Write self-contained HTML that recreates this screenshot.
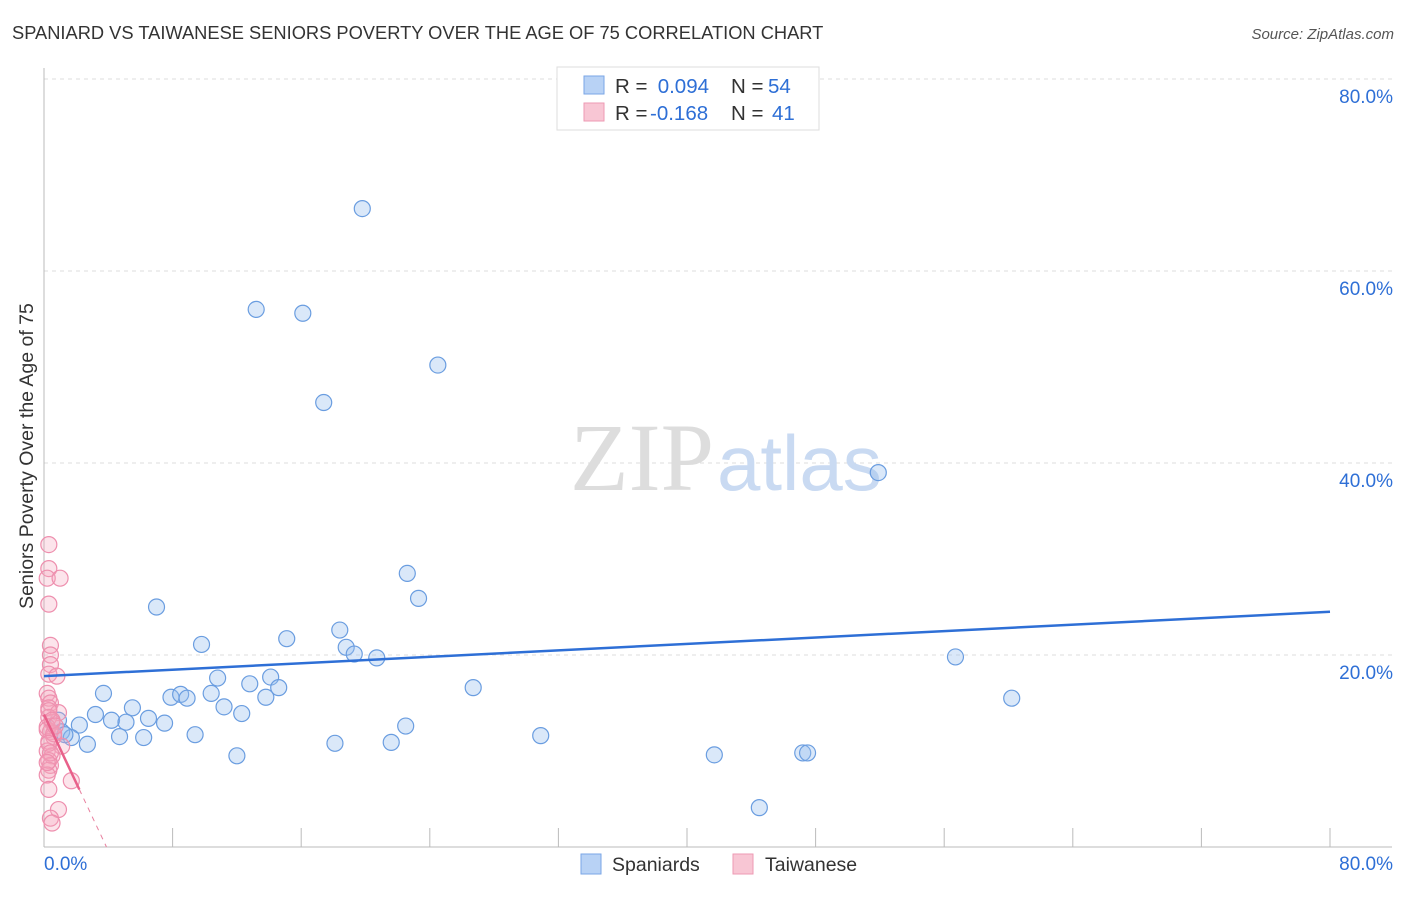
<!DOCTYPE html>
<html><head><meta charset="utf-8"><style>
body{margin:0;background:#fff;font-family:"Liberation Sans",sans-serif;}
svg text{font-family:"Liberation Sans",sans-serif;}
</style></head><body>
<svg width="1406" height="892">
<text x="12" y="39" font-size="18.3" fill="#333">SPANIARD VS TAIWANESE SENIORS POVERTY OVER THE AGE OF 75 CORRELATION CHART</text>
<text x="1394" y="39" font-size="15" fill="#555" text-anchor="end" font-style="italic">Source: ZipAtlas.com</text>
<g id="grid"></g>
<text x="714" y="490" font-size="96" fill="#ddd" text-anchor="end" style="font-family:'Liberation Serif',serif">ZIP</text>
<text x="717" y="490" font-size="78" fill="#c9daf2">atlas</text>
<text x="33" y="456" font-size="19.5" fill="#333" text-anchor="middle" transform="rotate(-90 33 456)">Seniors Poverty Over the Age of 75</text>
<g id="pts"></g>
<g id="lines"></g>
<g>
<rect x="557" y="67" width="262" height="63" fill="#fff" stroke="#ddd"/>
<rect x="584" y="76" width="20" height="18" fill="#b8d2f5" stroke="#7aa6e6"/>
<rect x="584" y="103" width="20" height="18" fill="#f8c6d4" stroke="#ee9ab3"/>
<text x="615" y="93" font-size="20.5" fill="#333">R = <tspan x="652" fill="#2e6fd6">&#160;0.094</tspan><tspan x="731">N = </tspan><tspan x="768" fill="#2e6fd6">54</tspan></text>
<text x="615" y="120" font-size="20.5" fill="#333">R = <tspan x="650" fill="#2e6fd6">-0.168</tspan><tspan x="731">N = </tspan><tspan x="772" fill="#2e6fd6">41</tspan></text>
</g>
<g>
<rect x="581" y="854" width="20" height="20" fill="#b8d2f5" stroke="#7aa6e6"/>
<text x="612" y="871" font-size="19.5" fill="#333">Spaniards</text>
<rect x="733" y="854" width="20" height="20" fill="#f8c6d4" stroke="#ee9ab3"/>
<text x="765" y="871" font-size="19.5" fill="#333">Taiwanese</text>
</g>
</svg>
<script>
const blueX=[19.8,13.2,16.1,24.5,17.4,51.9,22.6,7.0,23.3,9.8,15.1,18.4,18.8,19.3,20.7,56.7,60.2,26.7,3.7,7.9,8.5,8.9,10.4,10.8,12.8,14.1,14.6,13.8,11.2,12.3,5.5,3.2,4.2,5.1,6.5,7.5,2.2,0.9,1.1,1.7,2.7,4.7,6.2,9.4,18.1,21.6,22.5,30.9,12.0,41.7,47.2,47.5,44.5,1.3];
const blueY=[66.5,56.0,55.6,50.2,46.3,39.0,28.5,25.0,25.9,21.1,21.7,22.6,20.8,20.1,19.7,19.8,15.5,16.6,16.0,15.6,15.9,15.5,16.0,17.6,17.0,17.7,16.6,15.6,14.6,13.9,14.5,13.8,13.2,13.0,13.4,12.9,12.7,13.2,12.0,11.4,10.7,11.5,11.4,11.7,10.8,10.9,12.6,11.6,9.5,9.6,9.8,9.8,4.1,11.7];
const pinkX=[0.3,0.3,0.2,1.0,0.3,0.4,0.4,0.4,0.3,0.8,0.2,0.3,0.4,0.3,0.9,0.3,0.5,0.2,0.4,0.6,0.3,1.1,0.2,0.5,0.3,0.4,0.3,0.2,1.7,0.3,0.9,0.4,0.5,0.2,0.6,0.3,0.4,0.2,0.3,0.5,0.7];
const pinkY=[31.5,29.0,28.0,28.0,25.3,21.0,20.0,19.0,18.0,17.8,16.0,15.5,15.0,14.5,14.0,13.5,13.0,12.5,12.0,11.5,11.0,10.5,10.0,9.5,9.0,8.5,8.0,7.5,6.9,6.0,3.9,3.0,2.5,12.2,11.8,10.8,9.8,8.8,14.2,13.2,12.6];
const xTicks=[0,80];const yTicks=[20,40,60,80];
const blueTrend=[17.8,24.5];const pinkTrend=[13.8,-3.55];
const X=v=>44+v*1286/80, Y=v=>847-v*9.6;
const NS="http://www.w3.org/2000/svg";
function mk(p,t,a){const e=document.createElementNS(NS,t);for(const k in a)e.setAttribute(k,a[k]);p.appendChild(e);return e;}
const g=document.getElementById('grid');
yTicks.forEach(v=>{const l=mk(g,'line',{x1:44,x2:1392,y1:Y(v),y2:Y(v),stroke:'#ddd','stroke-dasharray':'4,4'});


const t=mk(g,'text',{x:1393,y:Y(v)+24,'font-size':19,fill:'#2e6fd6','text-anchor':'end'});t.textContent=v.toFixed(1)+'%';

});
mk(g,'line',{x1:44,x2:44,y1:68,y2:847,stroke:'#bbb'});
mk(g,'line',{x1:44,x2:1392,y1:847,y2:847,stroke:'#bbb'});
for(let i=1;i<=10;i++){mk(g,'line',{x1:X(i*8),x2:X(i*8),y1:828,y2:847,stroke:'#bbb'});}
xTicks.forEach((v,i)=>{const t=mk(g,'text',{x:i?1393:44,y:870,'font-size':19,fill:'#2e6fd6','text-anchor':i?'end':'start'});t.textContent=v.toFixed(1)+'%';

});
const p=document.getElementById('pts');
blueX.forEach((x,i)=>{const c=mk(p,'circle',{cx:X(x),cy:Y(blueY[i]),r:8,fill:'rgba(150,188,238,0.35)',stroke:'#6a9de0','stroke-width':1.2});

});
pinkX.forEach((x,i)=>{const c=mk(p,'circle',{cx:X(x),cy:Y(pinkY[i]),r:8,fill:'rgba(245,165,190,0.3)',stroke:'#ee8fae','stroke-width':1.2});

});
const L=document.getElementById('lines');
const bl=mk(L,'line',{x1:X(0),y1:Y(blueTrend[0]),x2:X(80),y2:Y(blueTrend[1]),stroke:'#2e6fd6','stroke-width':2.5});


const pe=2.2, z=-pinkTrend[0]/pinkTrend[1];
const pl=mk(L,'line',{x1:X(0),y1:Y(pinkTrend[0]),x2:X(pe),y2:Y(pinkTrend[0]+pinkTrend[1]*pe),stroke:'#e8608a','stroke-width':2.5});


const pd=mk(L,'line',{x1:X(pe),y1:Y(pinkTrend[0]+pinkTrend[1]*pe),x2:X(z),y2:Y(0),stroke:'#e8809f','stroke-width':1,'stroke-dasharray':'5,5'});


</script>
</body></html>
